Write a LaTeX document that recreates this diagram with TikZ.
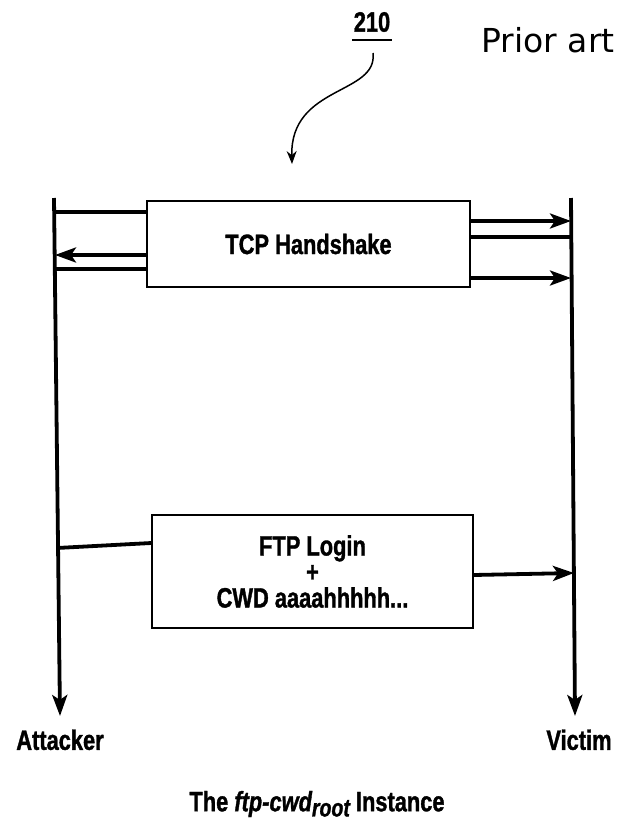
\documentclass[tikz,border=0pt]{standalone}
\usepackage{fontspec}
\newfontfamily\figfont[FakeStretch=0.78, BoldFeatures={FakeBold=1.2}, BoldItalicFeatures={FakeBold=1.2}]{Liberation Sans}
\newfontfamily\priorfont{DejaVu Sans}
\usetikzlibrary{positioning, arrows.meta}

\tikzset{
    box/.style={draw, line width=1.5pt, minimum width=323pt, minimum height=86pt,
        font=\figfont\bfseries\fontsize{28}{30}\selectfont},
    life/.style={line width=3.8pt},
    msg/.style={line width=3.8pt},
    lbl/.style={font=\figfont\bfseries\fontsize{28}{30}\selectfont}
}

\begin{document}
\begin{tikzpicture}[x=1pt, y=-1pt, >={Stealth[length=21pt,width=15pt,inset=5pt]}]
    \useasboundingbox (0,0) rectangle (634,833);

    % reference number and heading
    \node[lbl] (ref) at (372,22) {210};
    \draw[line width=1.5pt] (352,40) -- (392,40);
    \node[font=\priorfont\fontsize{33}{36}\selectfont] (prior) at (548,40) {Prior art};
    \coordinate (refend) at (292,164);
    \draw[line width=1.5pt, ->, >={Stealth[length=13pt,width=10pt]}]
        (373,53) .. controls (378,95) and (290,85) .. (refend);

    % the two boxes
    \node[box] (tcp) at (308.5,244) {TCP Handshake};
    \node[box, minimum width=321pt, minimum height=113pt, align=center,
          font=\figfont\bfseries\fontsize{28}{26}\selectfont] (ftp) at (312.5,571.5)
        {FTP Login\\+\\CWD aaaahhhhh...};

    % life lines
    \coordinate (atktop) at (54,198);
    \coordinate (atkbot) at (60,716);
    \coordinate (victop) at (571,198);
    \coordinate (vicbot) at (575,716);
    \draw[life, ->] (atktop) -- (atkbot);
    \draw[life, ->] (victop) -- (vicbot);
    \node[lbl, below=10pt of atkbot, xshift=0pt] (attacker) {Attacker};
    \node[lbl, below=10pt of vicbot, xshift=4pt] (victim) {Victim};

    % handshake messages
    \coordinate (a1) at (55,212);
    \coordinate (v1) at (571,221);
    \coordinate (v2) at (571,237);
    \coordinate (a2) at (55,255);
    \coordinate (a3) at (55,269);
    \coordinate (v3) at (571,278);
    \draw[msg] (a1) -- (tcp.west |- a1);
    \draw[msg, ->] (tcp.east |- v1) -- (v1);
    \draw[msg] (v2) -- (tcp.east |- v2);
    \draw[msg, ->] (tcp.west |- a2) -- (a2);
    \draw[msg] (a3) -- (tcp.west |- a3);
    \draw[msg, ->] (tcp.east |- v3) -- (v3);

    % login messages
    \coordinate (a4) at (57,548);
    \coordinate (v4) at (574,573);
    \draw[msg] (a4) -- ([yshift=5pt]ftp.west |- a4);
    \draw[msg, ->] ([yshift=-2pt]ftp.east |- v4) -- (v4);

    % caption
    \node[lbl] (caption) at (317,804)
        {The {\itshape ftp-cwd\raisebox{-0.35ex}{\fontsize{25}{26}\selectfont root}} Instance};
\end{tikzpicture}
\end{document}
